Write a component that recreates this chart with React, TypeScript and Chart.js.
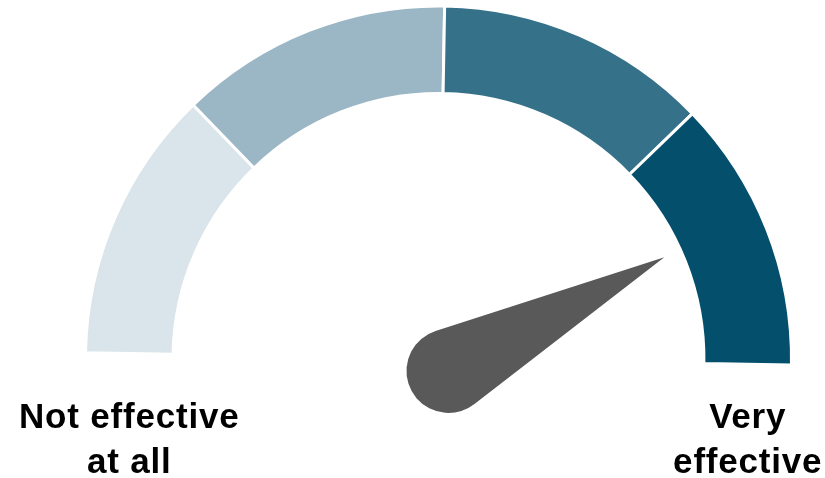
import React, { useEffect, useRef } from "react";
import { Chart, registerables } from "chart.js";

Chart.register(...registerables);

const segmentLabels = ["Not effective at all", "Somewhat not effective", "Somewhat effective", "Very effective"];
const segmentValues = [25, 25, 25, 25];
const segmentColors = ["#d9e5ea", "#9bb7c5", "#357189", "#034f6c"];
const needleValue = 84;
const needleMax = 100;
const leftLabelLines = ["Not effective", "at all"];
const rightLabelLines = ["Very", "effective"];

const gaugePlugin = {
  id: "gaugeExtras",
  afterDatasetsDraw(chart: any, _args: any, opts: any) {
    const meta = chart.getDatasetMeta(0);
    const arc = meta.data[0];
    if (!arc) return;
    const { x, y, outerRadius, innerRadius } = arc.getProps(["x", "y", "outerRadius", "innerRadius"], true);
    const ctx = chart.ctx;
    const rotation = ((chart.options.rotation - 90) * Math.PI) / 180;
    const circ = (chart.options.circumference * Math.PI) / 180;

    // needle
    const ang = rotation + (needleValue / needleMax) * circ;
    const px = x + opts.pivotDX;
    const py = y + opts.pivotDY;
    const r = opts.pivotRadius;
    const len = opts.needleLength;
    const tipX = px + Math.cos(ang) * len;
    const tipY = py + Math.sin(ang) * len;
    const half = Math.asin(r / len);
    const tA1 = ang - (Math.PI / 2 - half);
    const tA2 = ang + (Math.PI / 2 - half);
    ctx.save();
    ctx.fillStyle = opts.needleColor;
    ctx.beginPath();
    ctx.moveTo(tipX, tipY);
    ctx.lineTo(px + Math.cos(tA1) * r, py + Math.sin(tA1) * r);
    ctx.arc(px, py, r, tA1, tA2, true);
    ctx.closePath();
    ctx.fill();
    ctx.restore();

    // end labels
    const mid = (outerRadius + innerRadius) / 2;
    ctx.save();
    ctx.fillStyle = "#000";
    ctx.font = opts.font;
    (ctx as any).letterSpacing = opts.letterSpacing;
    ctx.textAlign = "center";
    ctx.textBaseline = "alphabetic";
    const drawLines = (lines: string[], cx: number) => {
      lines.forEach((t, i) => ctx.fillText(t, cx, y + opts.labelDY + i * opts.lineHeight));
    };
    drawLines(leftLabelLines, x - mid);
    drawLines(rightLabelLines, x + mid);
    ctx.restore();
  },
};

export default function App() {
  const ref = useRef<HTMLCanvasElement | null>(null);
  useEffect(() => {
    document.body.style.margin = "0";
    const chart = new Chart(ref.current as HTMLCanvasElement, {
      type: "doughnut",
      data: {
        labels: segmentLabels,
        datasets: [
          {
            data: segmentValues,
            backgroundColor: segmentColors,
            borderColor: "#ffffff",
            borderWidth: 3,
          },
        ],
      },
      options: {
        responsive: false,
        animation: false,
        rotation: -89,
        circumference: 180,
        cutout: "75.2%",
        layout: { padding: { left: 84, top: 4, right: 32, bottom: 111 } },
        plugins: {
          legend: { display: false },
          tooltip: { enabled: false },
          gaugeExtras: {
            pivotDX: 10,
            pivotDY: 12,
            pivotRadius: 42,
            needleLength: 244,
            needleColor: "#595959",
            font: "bold 35px 'Liberation Sans', Arial, sans-serif",
            letterSpacing: "0.8px",
            labelDY: 69,
            lineHeight: 45,
          },
        } as any,
      },
      plugins: [gaugePlugin],
    });
    return () => chart.destroy();
  }, []);
  return (
    <div style={{ width: 825, height: 478, background: "#fff" }}>
      <canvas ref={ref} width={825} height={478} style={{ display: "block" }} />
    </div>
  );
}
